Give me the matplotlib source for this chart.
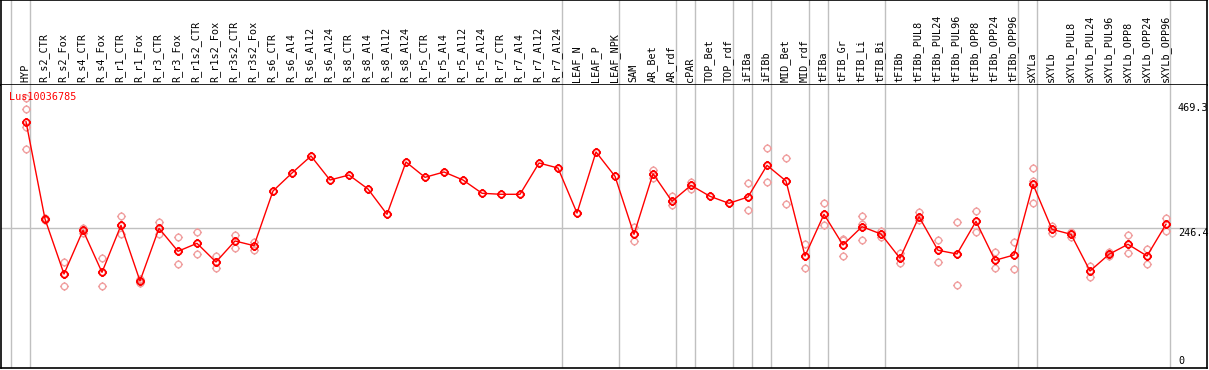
import numpy as np
import matplotlib
matplotlib.use("Agg")
import matplotlib.pyplot as plt
from matplotlib.path import Path

# sample names, left to right
samples = ["HYP", "R_s2_CTR", "R_s2_Fox", "R_s4_CTR", "R_s4_Fox", "R_r1_CTR", "R_r1_Fox",
           "R_r3_CTR", "R_r3_Fox", "R_r1s2_CTR", "R_r1s2_Fox", "R_r3s2_CTR", "R_r3s2_Fox",
           "R_s6_CTR", "R_s6_Al4", "R_s6_Al12", "R_s6_Al24", "R_s8_CTR", "R_s8_Al4",
           "R_s8_Al12", "R_s8_Al24", "R_r5_CTR", "R_r5_Al4", "R_r5_Al12", "R_r5_Al24",
           "R_r7_CTR", "R_r7_Al4", "R_r7_Al12", "R_r7_Al24", "LEAF_N", "LEAF_P", "LEAF_NPK",
           "SAM", "AR_Bet", "AR_rdf", "cPAR", "TOP_Bet", "TOP_rdf", "iFIBa", "iFIBb",
           "MID_Bet", "MID_rdf", "tFIBa", "tFIB_Gr", "tFIB_Li", "tFIB_Bi", "tFIBb",
           "tFIBb_PUL8", "tFIBb_PUL24", "tFIBb_PUL96", "tFIBb_OPP8", "tFIBb_OPP24",
           "tFIBb_OPP96", "sXYLa", "sXYLb", "sXYLb_PUL8", "sXYLb_PUL24", "sXYLb_PUL96",
           "sXYLb_OPP8", "sXYLb_OPP24", "sXYLb_OPP96"]

# mean expression per sample
means = [435.9, 262.3, 164.2, 242.1, 167.2, 251.1, 151.7, 245.7, 204.7, 218.9, 185.6,
         223.1, 214.7, 312.3, 344.4, 374.7, 331.9, 340.8, 315.8, 270.7, 364.0, 336.7,
         346.2, 331.9, 308.2, 306.4, 306.4, 362.2, 353.3, 273.0, 381.9, 338.5, 235.0,
         343.1, 293.9, 322.4, 302.8, 290.3, 301.6, 358.1, 330.1, 196.3, 270.7, 215.9,
         248.6, 235.5, 192.2, 266.4, 206.5, 199.9, 258.2, 188.6, 198.1, 324.2, 243.9,
         235.0, 169.5, 199.3, 217.2, 196.3, 252.9]

# replicate values (sample index -> values)
replicates = {
    0: [477.7, 458.1, 425.9, 386.7], 1: [263.6, 261.1], 2: [185.0, 142.8],
    3: [246.8, 237.9], 4: [192.2, 142.8], 5: [267.7, 235.5], 6: [154.7, 147.6],
    7: [257.0, 235.5], 8: [230.2, 182.0], 9: [238.6, 199.3], 10: [196.8, 174.3],
    11: [234.3, 211.1], 12: [220.7, 207.0],
    32: [248.6, 222.5], 33: [349.7, 335.5], 34: [302.8, 286.8], 35: [328.9, 315.8],
    38: [326.5, 277.8], 39: [388.5, 327.8], 40: [370.6, 288.5], 41: [217.7, 174.3],
    42: [290.3, 251.1], 43: [227.2, 224.3, 196.3], 44: [267.7, 253.4, 224.8],
    45: [241.4, 230.7], 46: [201.1, 184.3], 47: [274.8, 260.5], 48: [224.8, 186.1],
    49: [256.4, 144.0], 50: [276.0, 238.6], 51: [202.9, 174.3], 52: [221.8, 172.6],
    53: [352.8, 330.7, 290.3], 54: [249.8, 237.9], 55: [239.6, 230.7],
    56: [179.0, 159.3], 57: [204.0, 196.3], 58: [233.2, 201.1], 59: [208.8, 182.0],
    60: [264.1, 240.4],
}

# group separators drawn after these sample indices
separators = [-1, 0, 28, 31, 34, 35, 37, 38, 39, 41, 42, 45, 52, 53, 60]

gene = "Lus10036785"
ymax = 469.3
ymid = 246.4

RED = "#ff0000"
PINK = "#f0a0a0"
GRID = "#c0c0c0"
MONO = "DejaVu Sans Mono"

# circle with four little ticks
circ = Path.unit_circle()
tick_verts = [(0, 1), (0, 1.4), (0, -1), (0, -1.4), (1, 0), (1.4, 0), (-1, 0), (-1.4, 0)]
tick_codes = [Path.MOVETO, Path.LINETO] * 4
ticks = Path(tick_verts, tick_codes)
marker = Path.make_compound_path(circ, ticks)

W, H = 1209, 370
fig = plt.figure(figsize=(W / 100, H / 100), dpi=100)

# px -> data helpers for layout
px_col0, px_step = 26, 19
x_lo = (1 - px_col0) / px_step
x_hi = (1207 - px_col0) / px_step
y_scale = 0.5604
y_lo = (366 - 368) / y_scale
y_hi = (366 - 85) / y_scale

head = fig.add_axes([1 / W, (H - 85) / H, 1206 / W, 85 / H])
ax = fig.add_axes([1 / W, 2 / H, 1206 / W, 283 / H])

for a in (head, ax):
    a.set_xlim(x_lo, x_hi)
    a.set_xticks([])
    a.set_yticks([])
    for s in a.spines.values():
        s.set_color("black")
        s.set_linewidth(1.2)
head.set_ylim(0, 1)
ax.set_ylim(y_lo, y_hi)
ax.spines["top"].set_visible(False)

off = 4.4 / px_step
for i in separators:
    head.axvline(i + off, color=GRID, lw=1)
    ax.axvline(i + off, color=GRID, lw=1)
ax.axhline(ymid, color=GRID, lw=1)

for i, name in enumerate(samples):
    head.text(i - 0.05, 0.03, name, rotation=90, ha="center", va="bottom",
              fontsize=7.3, family=MONO)

xs = np.arange(len(samples))
for i, vals in replicates.items():
    ax.plot([i] * len(vals), vals, linestyle="none", marker=marker, ms=6.5,
            mfc="none", mec=PINK, mew=1.0)
ax.plot(xs, means, color=RED, lw=1, marker=marker, ms=6.5, mfc="none", mec=RED, mew=1.3)

ax.text(-0.88, 489, gene, color=RED, fontsize=7.3, family=MONO, ha="left", va="top")

xl = (1178 - px_col0) / px_step
ax.text(xl, ymax, "469.3", fontsize=7.3, family=MONO, ha="left", va="top")
ax.text(xl, ymid, "246.4", fontsize=7.3, family=MONO, ha="left", va="top")
ax.text(xl, 0, "0", fontsize=7.3, family=MONO, ha="left", va="bottom")

fig.savefig("out.png", dpi=100)
